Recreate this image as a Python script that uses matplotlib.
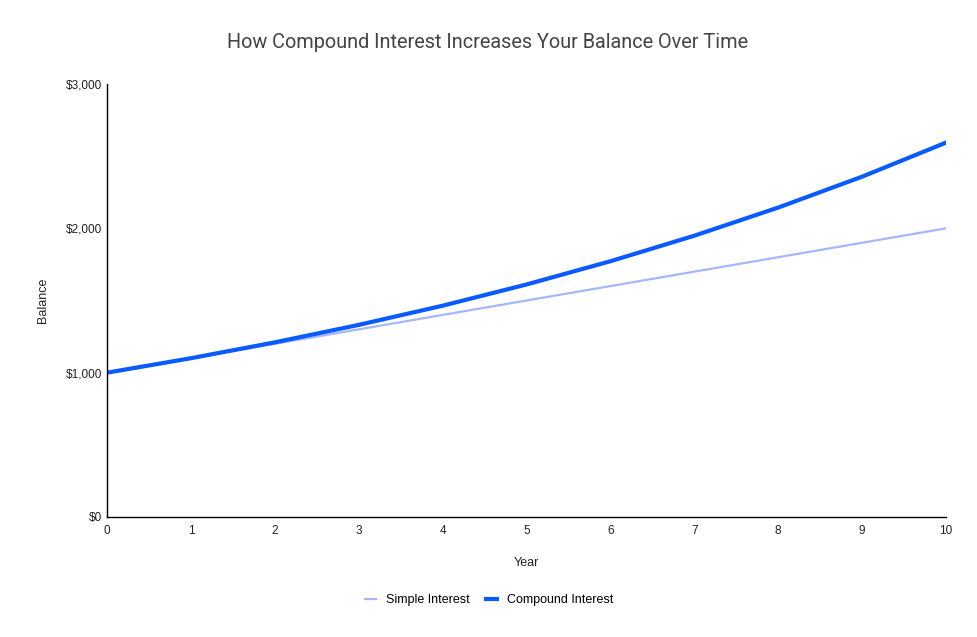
import matplotlib.pyplot as plt
from matplotlib.ticker import FuncFormatter

years = [0, 1, 2, 3, 4, 5, 6, 7, 8, 9, 10]
simple_interest = [1000, 1100, 1200, 1300, 1400, 1500, 1600, 1700, 1800, 1900, 2000]
compound_interest = [1000, 1100, 1210, 1331, 1464, 1611, 1772, 1949, 2144, 2358, 2594]
y_ticks = [0, 1000, 2000, 3000]

plt.rcParams['font.family'] = ['Liberation Sans', 'DejaVu Sans']

fig = plt.figure(figsize=(9.78, 6.37), dpi=100)
ax = fig.add_axes([0.1094, 0.1884, 0.8579, 0.6797])

ax.plot(years, simple_interest, color='#a4b7fc', linewidth=1.6, label='Simple Interest')
ax.plot(years, compound_interest, color='#0a5bff', linewidth=3.0, label='Compound Interest')

ax.set_xlim(0, 10)
ax.set_ylim(0, 3000)
ax.set_xticks(years)
ax.set_yticks(y_ticks)
ax.yaxis.set_major_formatter(FuncFormatter(lambda v, p: f'${v:,.0f}'))
ax.tick_params(length=0, labelsize=8.5, colors='#222222')
ax.tick_params(axis='x', pad=6)
ax.tick_params(axis='y', pad=3.5)

for side in ['top', 'right']:
    ax.spines[side].set_visible(False)
for side in ['left', 'bottom']:
    ax.spines[side].set_linewidth(1.0)
    ax.spines[side].set_color('#000000')

ax.set_xlabel('Year', fontsize=9, color='#222222', labelpad=14.5)
ax.set_ylabel('Balance', fontsize=9, color='#222222', labelpad=12)

fig.suptitle('How Compound Interest Increases Your Balance Over Time',
             x=0.4990, y=0.948, fontsize=14.3, color='#444444', family=['Roboto', 'DejaVu Sans'])

fig.legend(loc='center', bbox_to_anchor=(0.5, 0.058), ncol=2, frameon=False,
           fontsize=9, handlelength=0.9, handletextpad=0.8, columnspacing=1.3)

fig.savefig('out.png', dpi=100)
